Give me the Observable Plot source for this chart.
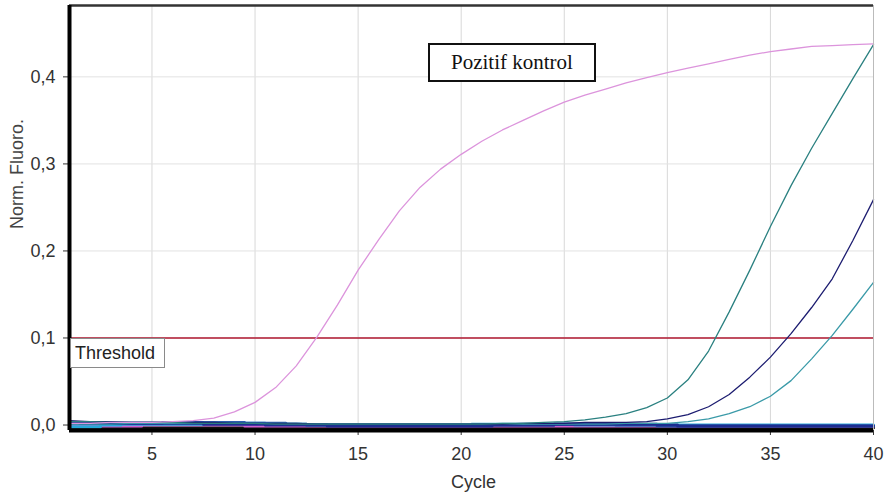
<!DOCTYPE html>
<html><head><meta charset="utf-8">
<script src="https://cdn.jsdelivr.net/npm/d3@7"></script>
<script src="https://cdn.jsdelivr.net/npm/@observablehq/plot@0.6"></script>
<style>
body{margin:0;background:#fff;}
#wrap{position:relative;width:884px;height:494px;overflow:hidden;background:#fff;}
.box{position:absolute;background:#fff;white-space:nowrap;}
#thr{border:1px solid #8a8a8a;font:18px "Liberation Sans",Arial,sans-serif;color:#222;padding:0 4px;line-height:28px;}
#pos{border:2px solid #111;font:21px "Liberation Serif","Times New Roman",serif;color:#111;text-align:center;line-height:35px;}
</style></head><body><div id="wrap"></div>
<script>
// ---- data ----
const cycles = [1,2,3,4,5,6,7,8,9,10,11,12,13,14,15,16,17,18,19,20,21,22,23,24,25,26,27,28,29,30,31,32,33,34,35,36,37,38,39,40];
const xTicks = [5,10,15,20,25,30,35,40];
const yTicks = [0,0.1,0.2,0.3,0.4];
const thresholdValue = 0.1;
const thresholdLabel = "Threshold";
const annotationLabel = "Pozitif kontrol";
const xLabel = "Cycle";
const yLabel = "Norm. Fluoro.";

// negative / background wells (flat near zero)
const bandNames = ["blackNeg","pinkNeg","cyanNeg","steelNeg","navyNeg"];
const blackNeg = [-0.003,-0.003,-0.003,-0.003,-0.003,-0.003,-0.003,-0.003,-0.003,-0.003,-0.003,-0.003,-0.003,-0.003,-0.003,-0.003,-0.003,-0.003,-0.003,-0.003,-0.003,-0.003,-0.003,-0.003,-0.003,-0.003,-0.003,-0.003,-0.003,-0.003,-0.003,-0.003,-0.003,-0.003,-0.003,-0.003,-0.003,-0.003,-0.003,-0.003];
const pinkNeg = [-0.001,-0.001,-0.001,-0.001,0.000,0.000,0.000,0.000,0.000,-0.001,-0.001,-0.001,-0.001,-0.001,-0.001,-0.001,-0.001,-0.001,-0.001,-0.001,-0.001,-0.001,-0.001,-0.001,-0.001,-0.001,-0.001,-0.001,-0.001,-0.001,-0.001,-0.001,-0.001,-0.001,-0.001,-0.001,-0.001,-0.001,-0.001,-0.001];
const cyanNeg = [-0.002,-0.002,0.000,0.001,0.001,0.001,0.001,0.002,0.002,0.002,0.001,0.001,0.000,0.000,0.000,0.000,0.000,0.000,0.000,0.000,0.001,0.001,0.001,0.001,0.001,0.000,0.000,0.000,0.000,0.000,0.000,0.000,0.000,0.000,0.000,0.000,0.000,0.000,0.000,0.000];
const steelNeg = [0.002,0.002,0.002,0.002,0.002,0.003,0.003,0.003,0.003,0.002,0.002,0.001,0.000,0.000,0.000,0.000,0.000,0.000,0.000,0.000,0.000,0.000,0.000,0.000,0.001,0.001,0.001,0.000,0.000,-0.001,-0.001,-0.001,-0.001,-0.001,-0.001,-0.001,-0.001,-0.001,-0.001,-0.001];
const navyNeg = [0.003,0.002,0.002,0.002,0.002,0.002,0.002,0.001,0.001,0.001,0.000,0.000,0.000,-0.001,-0.001,-0.001,-0.001,-0.001,-0.001,-0.001,-0.001,0.000,0.000,0.000,0.001,0.001,0.001,0.001,0.001,0.000,-0.001,-0.001,-0.001,-0.001,-0.001,-0.001,-0.001,-0.001,-0.001,-0.001];
const bandValues = [blackNeg,pinkNeg,cyanNeg,steelNeg,navyNeg];

// amplifying wells
const curveNames = ["lightTeal","navy","teal","positive"];
const lightTeal = [0.001,0.001,0.001,0.002,0.002,0.002,0.002,0.002,0.002,0.002,0.002,0.002,0.001,0.001,0.001,0.001,0.001,0.001,0.001,0.001,0.001,0.001,0.001,0.001,0.001,0.001,0.001,0.002,0.002,0.002,0.004,0.007,0.013,0.021,0.033,0.051,0.076,0.103,0.133,0.164];
const navy = [0.005,0.004,0.004,0.003,0.003,0.003,0.003,0.003,0.002,0.002,0.002,0.002,0.001,0.001,0.001,0.001,0.001,0.001,0.001,0.001,0.001,0.001,0.002,0.002,0.002,0.003,0.003,0.003,0.004,0.007,0.012,0.021,0.035,0.055,0.078,0.105,0.135,0.168,0.212,0.259];
const teal = [0.004,0.004,0.003,0.003,0.003,0.003,0.002,0.002,0.002,0.002,0.001,0.001,0.001,0.001,0.001,0.001,0.001,0.001,0.001,0.001,0.001,0.002,0.002,0.003,0.004,0.006,0.009,0.013,0.020,0.031,0.052,0.085,0.130,0.178,0.228,0.275,0.318,0.358,0.398,0.437];
const positive = [0.002,0.002,0.003,0.003,0.003,0.004,0.005,0.008,0.015,0.026,0.043,0.068,0.101,0.138,0.178,0.213,0.246,0.273,0.294,0.311,0.326,0.339,0.350,0.361,0.371,0.379,0.386,0.393,0.399,0.405,0.410,0.415,0.420,0.425,0.429,0.432,0.435,0.436,0.437,0.438];
const curveValues = [lightTeal,navy,teal,positive];

// ---- styles ----
const bandColors = ["#111111","#d060d0","#28a8d8","#2c5cb0","#1c2c90"];
const curveColors = ["#3a9aa8","#1c1c70","#2a8080","#dc94dc"];

const bandRows = bandNames.flatMap((name, s) => cycles.map((c, i) => ({name, cycle: c, value: bandValues[s][i]})));
const curveRows = curveNames.flatMap((name, s) => cycles.map((c, i) => ({name, cycle: c, value: curveValues[s][i]})));
const fmt = d => d.toFixed(1).replace(".", ",");

const chart = Plot.plot({
  width: 884, height: 494,
  marginLeft: 69, marginRight: 11, marginTop: 5, marginBottom: 64,
  style: {fontFamily: "'Liberation Sans', Arial, sans-serif", fontSize: "18px", color: "#333", background: "#fff"},
  x: {domain: [1, 40], ticks: xTicks, tickSize: 5, tickPadding: 12, tickFormat: d => String(d), label: null},
  y: {domain: [-0.0063, 0.482], ticks: yTicks, tickSize: 6, tickPadding: 8, tickFormat: fmt, label: null},
  color: {domain: [...bandNames, ...curveNames], range: [...bandColors, ...curveColors]},
  marks: [
    Plot.gridX(xTicks, {stroke: "#d8d8d8", strokeOpacity: 1}),
    Plot.gridY(yTicks, {stroke: "#e2e2e2", strokeOpacity: 1}),
    Plot.line(bandRows, {x: "cycle", y: "value", z: "name", stroke: "name", strokeWidth: 3, curve: "step"}),
    Plot.ruleY([thresholdValue], {stroke: "#b01830", strokeWidth: 1.5}),
    Plot.line(curveRows, {x: "cycle", y: "value", z: "name", stroke: "name", strokeWidth: 1.3}),
    Plot.ruleX([40], {stroke: "#bbbbbb", strokeWidth: 1}),
    Plot.ruleY([0.482], {stroke: "#333", strokeWidth: 2.5}),
    Plot.ruleX([1], {stroke: "#000", strokeWidth: 4}),
    Plot.ruleY([-0.0063], {stroke: "#000", strokeWidth: 4}),
    Plot.text([xLabel], {frameAnchor: "bottom", dx: 2, dy: 57, fill: "#333", fontSize: 18}),
    Plot.text([yLabel], {frameAnchor: "left", rotate: -90, dx: -52, dy: 11, fill: "#444", fontSize: 18})
  ]
});
const wrap = document.getElementById("wrap");
wrap.appendChild(chart);

const xs = chart.scale("x"), ys = chart.scale("y");
const thr = document.createElement("div");
thr.id = "thr"; thr.className = "box"; thr.textContent = thresholdLabel;
thr.style.left = (xs.apply(1) + 1) + "px";
thr.style.top = (ys.apply(thresholdValue) + 1) + "px";
thr.style.width = "85px";
wrap.appendChild(thr);

const pos = document.createElement("div");
pos.id = "pos"; pos.className = "box"; pos.textContent = annotationLabel;
pos.style.left = "428px"; pos.style.top = "43px"; pos.style.width = "164px";
wrap.appendChild(pos);
</script>
</body></html>
